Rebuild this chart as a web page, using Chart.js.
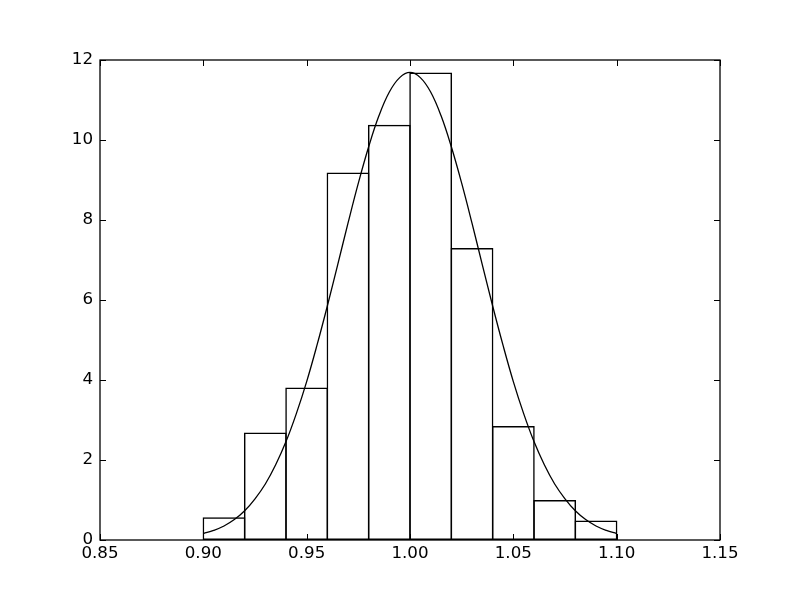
<!DOCTYPE html>
<html>
<head>
<meta charset="UTF-8">
<title>Histogram with normal fit</title>
<script src="https://cdn.jsdelivr.net/npm/chart.js"></script>
<style>
  body { margin: 0; background: #fff; }
  canvas { display: block; }
</style>
</head>
<body>
<canvas id="hist" width="800" height="600"></canvas>
<script>
// histogram bins (centres) and heights
const binCenters = [0.91, 0.93, 0.95, 0.97, 0.99, 1.01, 1.03, 1.05, 1.07, 1.09];
const binHeights = [0.57, 2.69, 3.81, 9.19, 10.38, 11.69, 7.30, 2.85, 1.00, 0.49];

// fitted curve
const curveX = [0.900, 0.905, 0.910, 0.915, 0.920, 0.925, 0.930, 0.935, 0.940, 0.945,
                0.950, 0.955, 0.960, 0.965, 0.970, 0.975, 0.980, 0.985, 0.990, 0.995,
                1.000, 1.005, 1.010, 1.015, 1.020, 1.025, 1.030, 1.035, 1.040, 1.045,
                1.050, 1.055, 1.060, 1.065, 1.070, 1.075, 1.080, 1.085, 1.090, 1.095, 1.100];
const curveY = [0.16, 0.24, 0.35, 0.51, 0.73, 1.03, 1.40, 1.88, 2.46, 3.16,
                3.96, 4.87, 5.85, 6.88, 7.92, 8.92, 9.83, 10.61, 11.20, 11.56,
                11.69, 11.56, 11.20, 10.61, 9.83, 8.92, 7.92, 6.88, 5.85, 4.87,
                3.96, 3.16, 2.46, 1.88, 1.40, 1.03, 0.73, 0.51, 0.35, 0.24, 0.16];

const xMin = 0.85, xMax = 1.15, xStep = 0.05;
const yMin = 0, yMax = 12, yStep = 2;

const fontSpec = { family: 'DejaVu Sans', size: 16.7 };
const barLine = 1.5;

// box around the plot plus inward ticks on all four sides
const frame = {
    id: 'frame',
    afterDraw(chart) {
        const c = chart.ctx, a = chart.chartArea;
        const xs = chart.scales.x, ys = chart.scales.y;
        const len = 6;
        c.save();
        c.strokeStyle = '#000';
        c.lineWidth = 1;
        c.beginPath();
        xs.ticks.forEach(t => {
            const px = Math.round(xs.getPixelForValue(t.value)) + 0.5;
            c.moveTo(px, a.bottom); c.lineTo(px, a.bottom - len);
            c.moveTo(px, a.top); c.lineTo(px, a.top + len);
        });
        ys.ticks.forEach(t => {
            const py = Math.round(ys.getPixelForValue(t.value)) + 0.5;
            c.moveTo(a.left, py); c.lineTo(a.left + len, py);
            c.moveTo(a.right, py); c.lineTo(a.right - len, py);
        });
        c.stroke();
        c.lineWidth = 1.3;
        c.strokeRect(a.left, a.top, a.right - a.left, a.bottom - a.top);
        c.restore();
    }
};

new Chart(document.getElementById('hist'), {
    type: 'bar',
    data: {
        datasets: [
            {
                type: 'line',
                data: curveX.map((x, i) => ({ x: x, y: curveY[i] })),
                borderColor: '#000',
                borderWidth: 1.3,
                pointRadius: 0,
                tension: 0.4,
                fill: false,
                order: 0
            },
            {
                type: 'bar',
                data: binCenters.map((x, i) => ({ x: x, y: binHeights[i] })),
                backgroundColor: 'rgba(255,255,255,0)',
                borderColor: '#000',
                borderWidth: barLine,
                borderSkipped: false,
                // widen each bar by one border width so neighbouring edges fall on one line
                barPercentage: 1 + barLine / 41.33,
                categoryPercentage: 1,
                order: 1
            }
        ]
    },
    options: {
        responsive: false,
        animation: false,
        layout: { padding: { left: 0, top: 60, right: 80, bottom: 0 } },
        plugins: { legend: { display: false }, tooltip: { enabled: false } },
        scales: {
            x: {
                type: 'linear',
                offset: false,
                min: xMin,
                max: xMax,
                grid: { display: false, drawTicks: false },
                border: { display: false },
                ticks: {
                    stepSize: xStep,
                    color: '#000',
                    font: fontSpec,
                    padding: 4,
                    maxRotation: 0,
                    callback: v => v.toFixed(2)
                },
                afterFit: s => { s.height = 60; }
            },
            y: {
                min: yMin,
                max: yMax,
                grid: { display: false, drawTicks: false },
                border: { display: false },
                ticks: {
                    stepSize: yStep,
                    color: '#000',
                    font: fontSpec,
                    padding: 7
                },
                afterFit: s => { s.width = 100; }
            }
        }
    },
    plugins: [frame]
});
</script>
</body>
</html>
